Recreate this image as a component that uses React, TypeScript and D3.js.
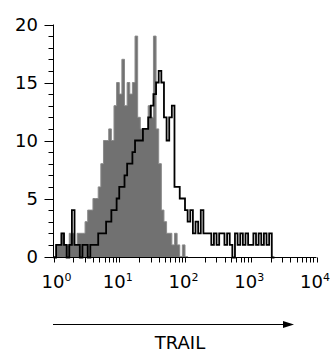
import React from "react";
import * as d3 from "d3";

const width = 330;
const height = 352;

// histogram channels: each bin is 0.04 decade wide, starting at 10^0
const LOG_STEP = 0.04;

// isotype control (filled grey)
const isotypeCounts = [
  0, 1, 1, 2, 1, 1, 2, 2, 1, 2,
  2, 2, 3, 4, 4, 5, 5, 6, 8, 10,
  10, 11, 10, 13, 15, 14, 17, 13, 15, 14,
  15, 19, 12, 11, 11, 11, 13, 12, 19, 11,
  8, 4, 3, 2, 2, 1, 2, 1, 0, 1, 0
];

// TRAIL staining (black outline)
const trailCounts = [
  0, 1, 1, 2, 1, 0, 1, 4, 1, 1,
  0, 1, 1, 0, 1, 1, 1, 2, 2, 2,
  3, 3, 4, 4, 5, 6, 6, 7, 8, 8,
  9, 10, 10, 10, 11, 11, 12, 13, 14, 15,
  16, 15, 12, 10, 12, 13, 6, 6, 5, 5,
  4, 3, 4, 2, 3, 2, 4, 2, 2, 2,
  1, 2, 1, 2, 2, 1, 2, 1, 0, 2,
  1, 2, 1, 2, 1, 1, 2, 1, 2, 1,
  2, 1, 2, 0
];

const yTicks = [0, 5, 10, 15, 20];
const yMinorTicks = d3.range(0, 21);
const xDecades = [0, 1, 2, 3, 4];
const xLabel = "TRAIL";

const FONT = "'DejaVu Sans', Verdana, sans-serif";

const x = d3.scaleLog().domain([1, 1e4]).range([53.5, 316.5]);
const y = d3.scaleLinear().domain([0, 20]).range([256.5, 24.5]);
const baseY = 257.5;

function toPoints(counts: number[]): [number, number][] {
  const pts: [number, number][] = counts.map((c, i) => [Math.pow(10, i * LOG_STEP), c]);
  pts.push([Math.pow(10, counts.length * LOG_STEP), counts[counts.length - 1]]);
  return pts;
}

const area = d3
  .area<[number, number]>()
  .x(d => x(d[0]))
  .y0(baseY)
  .y1(d => y(d[1]))
  .curve(d3.curveStepAfter);

const line = d3
  .line<[number, number]>()
  .x(d => x(d[0]))
  .y(d => (d[1] === 0 ? baseY : y(d[1])))
  .curve(d3.curveStepAfter);

const xMinorTicks: number[] = [];
for (let k = 0; k < 4; k++) {
  for (let m = 1; m <= 9; m++) xMinorTicks.push(m * Math.pow(10, k));
}
xMinorTicks.push(1e4);

export default function App() {
  const axisX = x(1);
  return (
    <svg
      width={width}
      height={height}
      style={{ position: "absolute", left: 0, top: 0, background: "#fff" }}
    >
      {/* histograms */}
      <path
        d={area(toPoints(isotypeCounts)) || ""}
        fill="#717171"
        stroke="#8a8a8a"
        strokeWidth={1}
      />
      <path
        d={line(toPoints(trailCounts)) || ""}
        fill="none"
        stroke="#000"
        strokeWidth={1.8}
      />

      {/* y axis */}
      <line x1={axisX} x2={axisX} y1={y(20)} y2={baseY} stroke="#000" />
      {yMinorTicks.map(t => (
        <line
          key={"ym" + t}
          x1={axisX - (t % 5 === 0 ? 9 : 5)}
          x2={axisX}
          y1={Math.round(y(t)) + 0.5}
          y2={Math.round(y(t)) + 0.5}
          stroke="#000"
        />
      ))}
      {yTicks.map(t => (
        <text
          key={"yl" + t}
          x={38}
          y={y(t)}
          dy="0.36em"
          textAnchor="end"
          fontFamily={FONT}
          fontSize={18}
        >
          {t}
        </text>
      ))}

      {/* x axis */}
      <line x1={axisX} x2={x(1e4)} y1={baseY} y2={baseY} stroke="#000" />
      {xMinorTicks.map(t => (
        <line
          key={"xm" + t}
          x1={Math.round(x(t)) + 0.5}
          x2={Math.round(x(t)) + 0.5}
          y1={baseY}
          y2={baseY + 5}
          stroke="#000"
        />
      ))}
      {xDecades.map(k => {
        const cx = Math.max(x(Math.pow(10, k)) - 5, 53);
        return (
          <g key={"xl" + k} fontFamily={FONT}>
            <text x={cx} y={288} textAnchor="middle" fontSize={18}>
              10
            </text>
            <text x={cx + 11.5} y={281} fontSize={11}>
              {k}
            </text>
          </g>
        );
      })}

      {/* axis title with arrow */}
      <line x1={53} x2={284} y1={324.5} y2={324.5} stroke="#000" />
      <polygon points="283,321 294,324.5 283,328" fill="#000" />
      <text x={180} y={349} textAnchor="middle" fontFamily={FONT} fontSize={18}>
        {xLabel}
      </text>
    </svg>
  );
}
